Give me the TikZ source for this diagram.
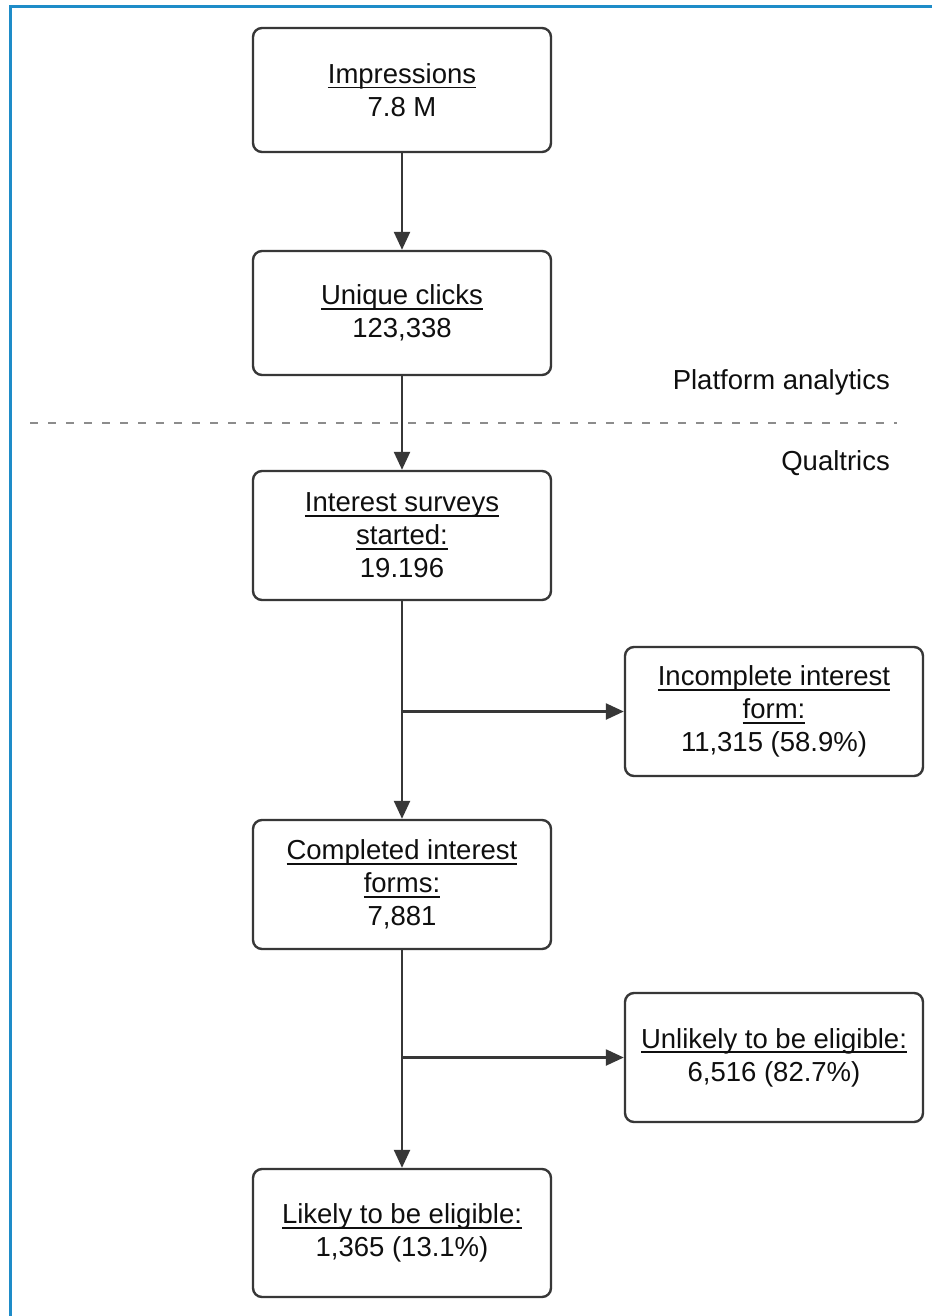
\documentclass[tikz,border=0pt]{standalone}
\usepackage{fontspec}
\setmainfont{Liberation Sans}
\usetikzlibrary{arrows.meta}
\definecolor{frameblue}{RGB}{30,140,200}
\definecolor{boxline}{RGB}{55,55,55}
\definecolor{txt}{RGB}{15,15,15}
\definecolor{dashgray}{RGB}{140,140,140}
\newcommand{\ttl}[1]{\setbox0\hbox{#1}\leavevmode\rlap{\rule[-5pt]{\wd0}{1.8pt}}\box0}
\tikzset{
  flowbox/.style={draw=boxline, line width=2.4pt, rounded corners=9pt, fill=white,
    minimum width=298pt, align=center, text=txt, inner sep=0pt,
    font=\fontsize{27.5}{33}\selectfont},
  flowarrow/.style={draw=boxline, line width=2.4pt, -{Triangle[length=18pt,width=16pt]}},
  sidelabel/.style={anchor=east, text=txt, inner sep=0pt, font=\fontsize{27.5}{33}\selectfont}
}
\begin{document}
\begin{tikzpicture}[x=1pt,y=-1pt]
\useasboundingbox (0,0) rectangle (932,1316);
\fill[white] (0,0) rectangle (932,1316);
% frame
\draw[frameblue, line width=3pt] (10,1316) -- (10,7) -- (932,7);
% dashed separator
\draw[dashgray, line width=1.8pt, dash pattern=on 8pt off 10pt] (30,423) -- (897,423);
\node[sidelabel] (pa) at (890,382) {Platform analytics};
\node[sidelabel] (qu) at (890,463) {Qualtrics};
% boxes
\node[flowbox, minimum height=124pt] (imp) at (402,90) {\ttl{Impressions}\\7.8 M};
\node[flowbox, minimum height=124pt] (uni) at (402,313) {\ttl{Unique clicks}\\123,338};
\node[flowbox, minimum height=129pt] (int) at (402,535.5) {\ttl{Interest surveys}\\\ttl{started:}\\19.196};
\node[flowbox, minimum height=129pt] (inc) at (774,711.5) {\ttl{Incomplete interest}\\\ttl{form:}\\11,315 (58.9\%)};
\node[flowbox, minimum height=129pt] (com) at (402,884.5) {\ttl{Completed interest}\\\ttl{forms:}\\7,881};
\node[flowbox, minimum height=129pt] (unl) at (774,1057.5) {\ttl{Unlikely to be eligible:}\\6,516 (82.7\%)};
\node[flowbox, minimum height=128pt] (lik) at (402,1233) {\ttl{Likely to be eligible:}\\1,365 (13.1\%)};
% connectors
\draw[flowarrow] (imp.south) -- (uni.north);
\draw[flowarrow] (uni.south) -- (int.north);
\draw[flowarrow] (int.south) -- (com.north);
\coordinate (b1) at (int.south |- inc.west);
\draw[flowarrow] (b1) -- (inc.west);
\draw[flowarrow] (com.south) -- (lik.north);
\coordinate (b2) at (com.south |- unl.west);
\draw[flowarrow] (b2) -- (unl.west);
\end{tikzpicture}
\end{document}
